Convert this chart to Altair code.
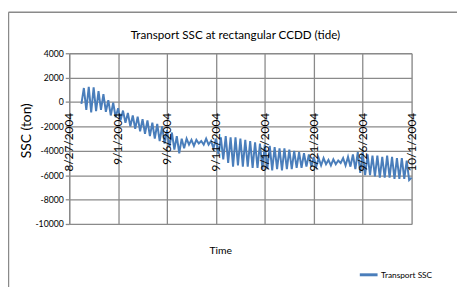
import altair as alt
import pandas as pd

# ---- data ----
series_name = "Transport SSC"
series_start = "2004-08-28 06:00"   # first sample, then every 6 hours
first_values = [-150, 1150, -650]   # 8/28 06:00, 12:00, 18:00
# one row per day: 00:00, 06:00, 12:00, 18:00
daily_values = [
    [1250, -850, 1200, -750],     # 8/29
    [900, -650, 650, -800],       # 8/30
    [150, -1100, -50, -1250],     # 8/31
    [-500, -1500, -700, -1700],   # 9/1
    [-900, -2000, -1100, -2200],  # 9/2
    [-1200, -2400, -1400, -2600], # 9/3
    [-1500, -2800, -1700, -3000], # 9/4
    [-1800, -3200, -2000, -3400], # 9/5
    [-2300, -3700, -2500, -3900], # 9/6
    [-2800, -4200, -3000, -3800], # 9/7
    [-3000, -3500, -3100, -3600], # 9/8
    [-3100, -3400, -3200, -3500], # 9/9
    [-3000, -3500, -3200, -3800], # 9/10
    [-3000, -4300, -2900, -4700], # 9/11
    [-2800, -5000, -2900, -5300], # 9/12
    [-2900, -5200, -3000, -5300], # 9/13
    [-3100, -5300, -3200, -5400], # 9/14
    [-3300, -5400, -3400, -5500], # 9/15
    [-3500, -5500, -3600, -5600], # 9/16
    [-3700, -5500, -3800, -5600], # 9/17
    [-3800, -5500, -3900, -5500], # 9/18
    [-4000, -5400, -4100, -5400], # 9/19
    [-4200, -5300, -4300, -5300], # 9/20
    [-4500, -5300, -4600, -5200], # 9/21
    [-4600, -5100, -4750, -5200], # 9/22
    [-4700, -5100, -4800, -5000], # 9/23
    [-4600, -5200, -4500, -5300], # 9/24
    [-4300, -5500, -4100, -5800], # 9/25
    [-4100, -6000, -4300, -6000], # 9/26
    [-4400, -6100, -4400, -6200], # 9/27
    [-4500, -6200, -4400, -6200], # 9/28
    [-4500, -6300, -4600, -6300], # 9/29
    [-4600, -6300, -4800, -6400], # 9/30
]
last_values = [-6200]               # 10/1 00:00

tick_dates = ["2004-08-27", "2004-09-01", "2004-09-06", "2004-09-11",
              "2004-09-16", "2004-09-21", "2004-09-26", "2004-10-01"]
tick_labels = ["8/27/2004", "9/1/2004", "9/6/2004", "9/11/2004",
               "9/16/2004", "9/21/2004", "9/26/2004", "10/1/2004"]
y_ticks = [4000, 2000, 0, -2000, -4000, -6000, -8000, -10000]

# ---- tables ----
values = first_values + [v for day in daily_values for v in day] + last_values
times = pd.date_range(series_start, periods=len(values), freq="6h")
df = pd.DataFrame({
    "time": times.strftime("%Y-%m-%dT%H:%M:%S"),
    "ssc": values,
    "series": series_name,
})
ticks_df = pd.DataFrame({
    "date": [d + "T00:00:00" for d in tick_dates],
    "label": tick_labels,
})


def dt(s):
    y, m, d = (int(p) for p in s.split("-"))
    return alt.DateTime(year=y, month=m, date=d)


tick_dt = [dt(s) for s in tick_dates]

FONT = "Lato"
GRID = "#8a8a8a"

x_enc = alt.X(
    "time:T",
    scale=alt.Scale(domain=[tick_dt[0], tick_dt[-1]]),
    axis=alt.Axis(values=tick_dt, tickCount=40, grid=True, gridColor=GRID, gridWidth=1.3,
                  labels=False, ticks=False, domain=False,
                  title="Time", titleFont=FONT, titleFontSize=10.5,
                  titleFontWeight="normal", titleColor="black",
                  titleX=153, titleY=27, titleBaseline="middle"),
)
y_enc = alt.Y(
    "ssc:Q",
    scale=alt.Scale(domain=[-10000, 4000], nice=False, zero=False),
    axis=alt.Axis(values=y_ticks, tickCount=40, grid=True, gridColor=GRID, gridWidth=1.3,
                  domainColor=GRID, domainWidth=1.3, tickColor=GRID, tickWidth=1.3,
                  tickSize=4, labelFont=FONT, labelFontSize=8.8, labelColor="black",
                  labelPadding=2, labelExpr="'' + datum.value", labelOverlap=False,
                  labelBound=False, labelFlush=False,
                  title="SSC (ton)", titleFont=FONT, titleFontSize=14,
                  titleFontWeight="normal", titleColor="black",
                  titleX=-43, titleY=78, titleBaseline="middle", titleAngle=270),
)

line = alt.Chart(df).mark_line(strokeWidth=2).encode(
    x=x_enc,
    y=y_enc,
    color=alt.Color("series:N",
                    scale=alt.Scale(domain=[series_name], range=["#4a7ebb"]),
                    legend=alt.Legend(orient="none", legendX=293, legendY=214,
                                      title=None, symbolType="stroke",
                                      symbolSize=324, symbolStrokeWidth=3,
                                      labelFont=FONT, labelFontSize=8.4,
                                      labelColor="black", labelOffset=2)),
)

labels = alt.Chart(ticks_df).mark_text(
    angle=270, align="right", baseline="middle", dx=-11,
    font=FONT, fontSize=12, color="black",
).encode(
    x=alt.X("date:T"),
    y=alt.datum(0),
    text="label:N",
)

one = pd.DataFrame({"k": [0]})
border_left = alt.Chart(one).mark_rule(color=GRID, strokeWidth=1.5).encode(
    x=alt.value(-61.5), y=alt.value(-41.5), y2=alt.value(400))
border_top = alt.Chart(one).mark_rule(color=GRID, strokeWidth=1.5).encode(
    x=alt.value(-61.5), x2=alt.value(600), y=alt.value(-41.5))

chart = alt.layer(line, labels, border_left, border_top).properties(
    width=347,
    height=173,
    title=alt.TitleParams("Transport SSC  at rectangular CCDD (tide)",
                          font=FONT, fontSize=11.8, fontWeight="normal",
                          color="black", anchor="middle", frame="group",
                          baseline="alphabetic", offset=-40, dx=-5),
    autosize=alt.AutoSizeParams(type="none"),
    padding={"left": 62, "top": 44, "right": 46, "bottom": 62},
).configure_view(stroke=None).configure(background="white")

chart.save("out.html", embed_options={"renderer": "svg", "actions": False})
